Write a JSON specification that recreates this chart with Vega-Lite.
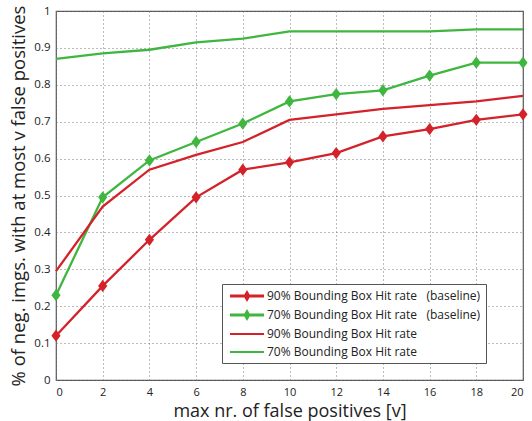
{
  "$schema": "https://vega.github.io/schema/vega-lite/v6.json",
  "width": 467,
  "height": 369,
  "autosize": "none",
  "padding": {"left": 56, "top": 11, "right": 9, "bottom": 41},
  "background": "white",
  "config": {
    "font": "Open Sans",
    "view": {"stroke": "#555", "strokeWidth": 1.2},
    "axis": {
      "grid": true,
      "gridColor": "#777",
      "gridDash": [1, 3],
      "gridWidth": 1,
      "domain": false,
      "ticks": false,
      "labelFont": "Open Sans",
      "labelFontSize": 11.5,
      "labelColor": "#222",
      "titleFont": "Open Sans",
      "titleFontWeight": "normal",
      "titleColor": "#222"
    }
  },
  "data": {
    "values": [
      {"v": 0, "value": 0.12, "series": "90% Bounding Box Hit rate (baseline)"},
      {"v": 2, "value": 0.255, "series": "90% Bounding Box Hit rate (baseline)"},
      {"v": 4, "value": 0.38, "series": "90% Bounding Box Hit rate (baseline)"},
      {"v": 6, "value": 0.495, "series": "90% Bounding Box Hit rate (baseline)"},
      {"v": 8, "value": 0.57, "series": "90% Bounding Box Hit rate (baseline)"},
      {"v": 10, "value": 0.59, "series": "90% Bounding Box Hit rate (baseline)"},
      {"v": 12, "value": 0.615, "series": "90% Bounding Box Hit rate (baseline)"},
      {"v": 14, "value": 0.66, "series": "90% Bounding Box Hit rate (baseline)"},
      {"v": 16, "value": 0.68, "series": "90% Bounding Box Hit rate (baseline)"},
      {"v": 18, "value": 0.705, "series": "90% Bounding Box Hit rate (baseline)"},
      {"v": 20, "value": 0.72, "series": "90% Bounding Box Hit rate (baseline)"},
      {"v": 0, "value": 0.23, "series": "70% Bounding Box Hit rate (baseline)"},
      {"v": 2, "value": 0.495, "series": "70% Bounding Box Hit rate (baseline)"},
      {"v": 4, "value": 0.595, "series": "70% Bounding Box Hit rate (baseline)"},
      {"v": 6, "value": 0.645, "series": "70% Bounding Box Hit rate (baseline)"},
      {"v": 8, "value": 0.695, "series": "70% Bounding Box Hit rate (baseline)"},
      {"v": 10, "value": 0.755, "series": "70% Bounding Box Hit rate (baseline)"},
      {"v": 12, "value": 0.775, "series": "70% Bounding Box Hit rate (baseline)"},
      {"v": 14, "value": 0.785, "series": "70% Bounding Box Hit rate (baseline)"},
      {"v": 16, "value": 0.825, "series": "70% Bounding Box Hit rate (baseline)"},
      {"v": 18, "value": 0.86, "series": "70% Bounding Box Hit rate (baseline)"},
      {"v": 20, "value": 0.86, "series": "70% Bounding Box Hit rate (baseline)"},
      {"v": 0, "value": 0.295, "series": "90% Bounding Box Hit rate"},
      {"v": 2, "value": 0.47, "series": "90% Bounding Box Hit rate"},
      {"v": 4, "value": 0.57, "series": "90% Bounding Box Hit rate"},
      {"v": 6, "value": 0.61, "series": "90% Bounding Box Hit rate"},
      {"v": 8, "value": 0.645, "series": "90% Bounding Box Hit rate"},
      {"v": 10, "value": 0.705, "series": "90% Bounding Box Hit rate"},
      {"v": 12, "value": 0.72, "series": "90% Bounding Box Hit rate"},
      {"v": 14, "value": 0.735, "series": "90% Bounding Box Hit rate"},
      {"v": 16, "value": 0.745, "series": "90% Bounding Box Hit rate"},
      {"v": 18, "value": 0.755, "series": "90% Bounding Box Hit rate"},
      {"v": 20, "value": 0.77, "series": "90% Bounding Box Hit rate"},
      {"v": 0, "value": 0.87, "series": "70% Bounding Box Hit rate"},
      {"v": 2, "value": 0.885, "series": "70% Bounding Box Hit rate"},
      {"v": 4, "value": 0.895, "series": "70% Bounding Box Hit rate"},
      {"v": 6, "value": 0.915, "series": "70% Bounding Box Hit rate"},
      {"v": 8, "value": 0.925, "series": "70% Bounding Box Hit rate"},
      {"v": 10, "value": 0.945, "series": "70% Bounding Box Hit rate"},
      {"v": 12, "value": 0.945, "series": "70% Bounding Box Hit rate"},
      {"v": 14, "value": 0.945, "series": "70% Bounding Box Hit rate"},
      {"v": 16, "value": 0.945, "series": "70% Bounding Box Hit rate"},
      {"v": 18, "value": 0.95, "series": "70% Bounding Box Hit rate"},
      {"v": 20, "value": 0.95, "series": "70% Bounding Box Hit rate"}
    ]
  },
  "encoding": {
    "x": {
      "field": "v",
      "type": "quantitative",
      "scale": {"domain": [0, 20], "nice": false},
      "axis": {
        "values": [0, 2, 4, 6, 8, 10, 12, 14, 16, 18, 20],
        "format": "d",
        "labelFontSize": 11,
        "labelPadding": 6,
        "title": "max nr. of false positives [v]",
        "titleFontSize": 18,
        "titlePadding": 5
      }
    },
    "y": {
      "field": "value",
      "type": "quantitative",
      "scale": {"domain": [0, 1], "nice": false},
      "axis": {
        "values": [0, 0.1, 0.2, 0.3, 0.4, 0.5, 0.6, 0.7, 0.8, 0.9, 1],
        "format": "~g",
        "labelPadding": 6,
        "title": "% of neg. imgs. with at most v false positives",
        "titleFontSize": 18.5,
        "titlePadding": 5
      }
    }
  },
  "layer": [
    {
      "transform": [{"filter": "datum.v < 0"}],
      "mark": {"type": "point", "filled": true, "opacity": 1},
      "encoding": {
        "color": {
          "field": "series",
          "type": "nominal",
          "scale": {
            "domain": [
              "90% Bounding Box Hit rate (baseline)",
              "70% Bounding Box Hit rate (baseline)",
              "90% Bounding Box Hit rate",
              "70% Bounding Box Hit rate"
            ],
            "range": ["#d4222a", "#3fb63f", "#d4222a", "#3fb63f"]
          },
          "legend": {
            "title": null,
            "orient": "none",
            "legendX": 166,
            "legendY": 273,
            "direction": "vertical",
            "fillColor": "white",
            "strokeColor": "#555",
            "padding": 5,
            "symbolSize": 196,
            "symbolOffset": 13,
            "labelOffset": 13,
            "rowPadding": 5,
            "symbolStrokeWidth": 0,
            "labelLimit": 400,
            "labelFont": "Open Sans",
            "labelFontSize": 12,
            "labelColor": "#222",
            "labelExpr": "replace(datum.label, ' (baseline)', '\u00a0\u00a0\u00a0(baseline)') + '\u00a0\u00a0\u00a0\u00a0\u00a0\u00a0\u00a0\u00a0\u00a0\u00a0\u00a0\u00a0\u00a0\u00a0'"
          }
        },
        "shape": {
          "field": "series",
          "type": "nominal",
          "scale": {
            "domain": [
              "90% Bounding Box Hit rate (baseline)",
              "70% Bounding Box Hit rate (baseline)",
              "90% Bounding Box Hit rate",
              "70% Bounding Box Hit rate"
            ],
            "range": [
              "M-2.43,-0.22H2.43V0.22H-2.43ZM0,-0.86L0.5,0L0,0.86L-0.5,0Z",
              "M-2.43,-0.22H2.43V0.22H-2.43ZM0,-0.86L0.5,0L0,0.86L-0.5,0Z",
              "M-2.43,-0.15H2.43V0.15H-2.43Z",
              "M-2.43,-0.15H2.43V0.15H-2.43Z"
            ]
          },
          "legend": {
            "title": null,
            "orient": "none",
            "legendX": 166,
            "legendY": 273,
            "direction": "vertical",
            "fillColor": "white",
            "strokeColor": "#555",
            "padding": 5,
            "symbolSize": 196,
            "symbolOffset": 13,
            "labelOffset": 13,
            "rowPadding": 5,
            "symbolStrokeWidth": 0,
            "labelLimit": 400,
            "labelFont": "Open Sans",
            "labelFontSize": 12,
            "labelColor": "#222",
            "labelExpr": "replace(datum.label, ' (baseline)', '\u00a0\u00a0\u00a0(baseline)') + '\u00a0\u00a0\u00a0\u00a0\u00a0\u00a0\u00a0\u00a0\u00a0\u00a0\u00a0\u00a0\u00a0\u00a0'"
          }
        }
      }
    },
    {
      "mark": {"type": "line", "strokeWidth": 2.3},
      "encoding": {
        "color": {"field": "series", "type": "nominal", "legend": null}
      }
    },
    {
      "transform": [{"filter": "indexof(datum.series, 'baseline') >= 0"}],
      "mark": {
        "type": "point",
        "shape": "M0,-1L0.75,0L0,1L-0.75,0Z",
        "size": 150,
        "filled": true,
        "opacity": 1
      },
      "encoding": {
        "color": {"field": "series", "type": "nominal", "legend": null}
      }
    }
  ]
}
